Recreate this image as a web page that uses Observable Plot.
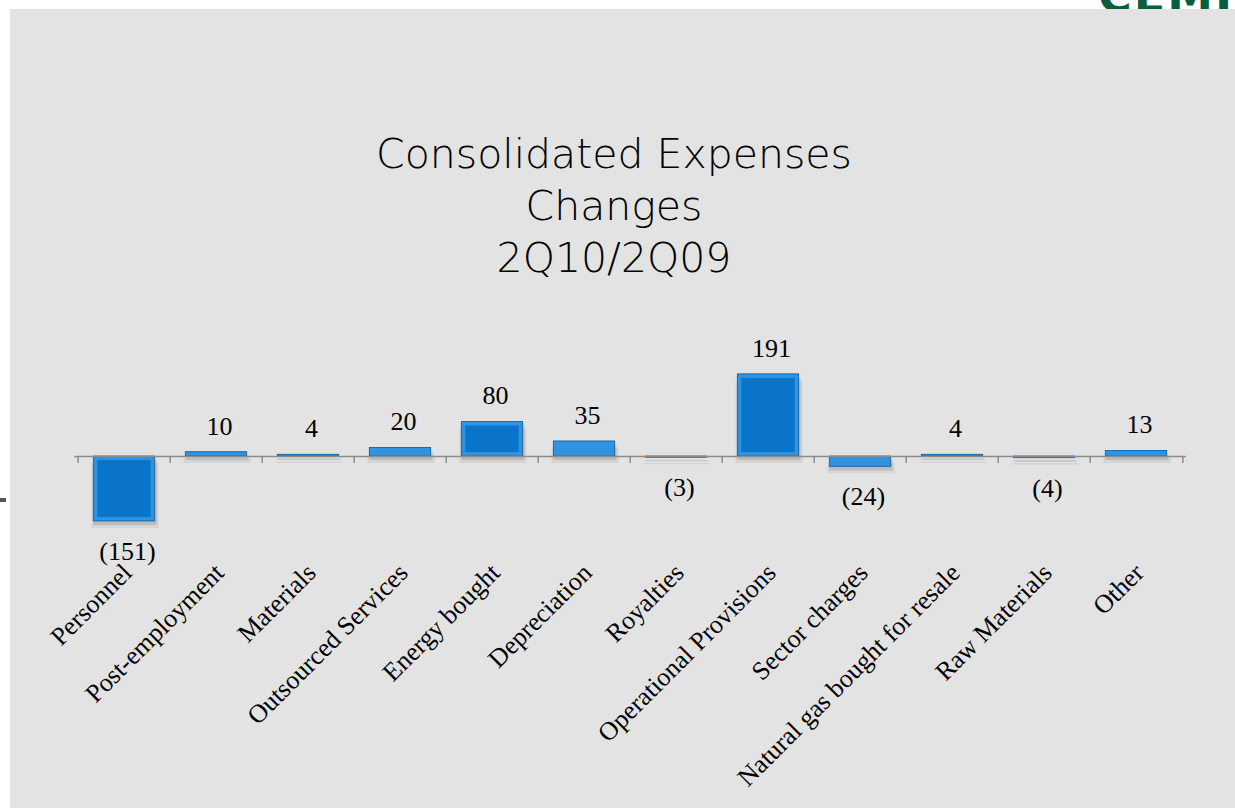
<!DOCTYPE html>
<html>
<head>
<meta charset="utf-8">
<script src="https://cdn.jsdelivr.net/npm/d3@7"></script>
<script src="https://cdn.jsdelivr.net/npm/@observablehq/plot@0.6"></script>
<style>
  html, body { margin: 0; padding: 0; background: #ffffff; width: 1235px; height: 808px; overflow: hidden; position: relative; }
  #logo { position: absolute; left: 1098px; top: -31px; font: bold 46px "DejaVu Sans", sans-serif; color: #0b5e3b; letter-spacing: 2px; }
  #panel { position: absolute; left: 10px; top: 9px; width: 1225px; height: 799px; background: #e3e3e3; }
  #dash { position: absolute; left: 0px; top: 498px; width: 6px; height: 4px; background: #555; }
  #title { position: absolute; left: 0px; top: 128px; width: 1228px; text-align: center; font-family: "DejaVu Sans", sans-serif; font-weight: 200; font-size: 41px; line-height: 52px; color: #000; }
  #chart { position: absolute; left: 10px; top: 300px; }
</style>
</head>
<body>
<div id="logo">CEMIG</div>
<div id="panel"></div>
<div id="dash"></div>
<div id="title">Consolidated Expenses<br>Changes<br>2Q10/2Q09</div>
<div id="chart"></div>
<script>
const categories = ["Personnel", "Post-employment", "Materials", "Outsourced Services", "Energy bought", "Depreciation", "Royalties", "Operational Provisions", "Sector charges", "Natural gas bought for resale", "Raw Materials", "Other"];
const values = [-151, 10, 4, 20, 80, 35, -3, 191, -24, 4, -4, 13];
const valueLabels = ["(151)", "10", "4", "20", "80", "35", "(3)", "191", "(24)", "4", "(4)", "13"];

const data = categories.map((c, i) => ({cat: c, value: values[i], label: valueLabels[i]}));
const big = data.filter(d => Math.abs(d.value) >= 50);
const pos = data.filter(d => d.value >= 0);
const neg = data.filter(d => d.value < 0);

const W = 1225, H = 508;
const bandW = (1176 - 64) / categories.length;
const inset = 15.3;
const serif = "'Liberation Serif', 'Times New Roman', serif";

const chart = Plot.plot({
  width: W,
  height: H,
  marginLeft: 64,
  marginRight: 49,
  marginTop: 0,
  marginBottom: H - 156,
  style: {background: "transparent", overflow: "visible"},
  x: {domain: categories, padding: 0},
  y: {domain: [-200, 200], range: [242, 70], axis: null},
  marks: [
    // soft shadows
    Plot.barY(data, {x: "cat", y: "value", fill: "#000", fillOpacity: 0.06, dx: 1, dy: 7, insetLeft: inset - 3, insetRight: inset - 3}),
    Plot.barY(data, {x: "cat", y: "value", fill: "#000", fillOpacity: 0.12, dx: 1, dy: 4, insetLeft: inset - 1, insetRight: inset - 1}),
    // bars (bevel: lighter outer rim, main inner fill)
    Plot.barY(data, {x: "cat", y: "value", fill: "#2f93e2", stroke: "#0a5b9c", strokeWidth: 0.8, insetLeft: inset, insetRight: inset}),
    Plot.barY(big, {x: "cat", y: "value", fill: "#0a74c9", insetLeft: inset + 4, insetRight: inset + 4, insetTop: 4, insetBottom: 4}),
    // axis line and ticks
    Plot.ruleY([0], {stroke: "#8c8c8c", strokeWidth: 1.5}),
    Plot.ruleX(categories, {x: d => d, y1: 0, y2: -16, dx: -bandW / 2, stroke: "#8c8c8c", strokeWidth: 1.5}),
    Plot.ruleX(categories.slice(-1), {x: d => d, y1: 0, y2: -16, dx: bandW / 2, stroke: "#8c8c8c", strokeWidth: 1.5}),
    // value labels
    Plot.text(pos, {x: "cat", y: "value", text: "label", dy: -26, dx: 3, fontSize: 26, fontFamily: serif, fill: "#000"}),
    Plot.text(neg, {x: "cat", y: "value", text: "label", dy: 30, dx: 3, fontSize: 26, fontFamily: serif, fill: "#000"}),
    // category labels
    Plot.axisX({anchor: "bottom", tickSize: 0, tickPadding: 112, tickRotate: -45, textAnchor: "end", lineAnchor: "middle", dx: 3, fontSize: 26, fontFamily: serif, fill: "#000", label: null})
  ]
});
document.getElementById("chart").appendChild(chart);
</script>
</body>
</html>
